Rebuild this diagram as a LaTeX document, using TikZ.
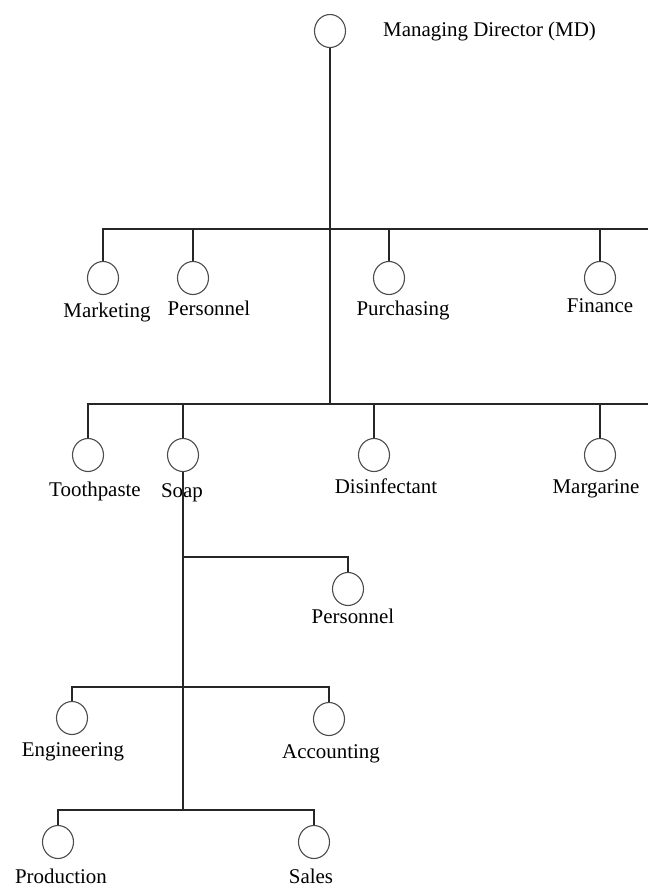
\documentclass[tikz,border=0pt]{standalone}
\usepackage{fontspec}
\setmainfont{Liberation Serif}
\usetikzlibrary{positioning, shapes.geometric}

\begin{document}
\begin{tikzpicture}[
  x=1bp, y=-1bp,
  unit/.style={draw=black!70, ellipse, line width=1.1bp, minimum width=31bp, minimum height=33bp, inner sep=0pt},
  lbl/.style={inner sep=0pt, anchor=base, font=\fontsize{21}{25}\selectfont},
  line/.style={line width=1.3bp, black!85}
]
\useasboundingbox (0,0) rectangle (648,887);

% managing director
\node[unit] (md) at (330,31) {};
\node[lbl, anchor=base west] (mdlbl) at (383,36) {Managing Director (MD)};

% functions
\coordinate (b1) at (330,229);
\coordinate (b1end) at (648,229);
\node[unit] (mkt) at (103,278) {};
\node[unit] (pers) at (193,278) {};
\node[unit] (purch) at (389,278) {};
\node[unit] (fin) at (600,278) {};
\node[lbl] at (107,317) {Marketing};
\node[lbl] at (209,315) {Personnel};
\node[lbl] at (403,315) {Purchasing};
\node[lbl] at (600,312) {Finance};

% products
\coordinate (b2) at (330,404);
\coordinate (b2end) at (648,404);
\node[unit] (tooth) at (88,455) {};
\node[unit] (soap) at (183,455) {};
\node[unit] (disinf) at (374,455) {};
\node[unit] (marg) at (600,455) {};
\node[lbl] at (95,496) {Toothpaste};
\node[lbl] at (182,497) {Soap};
\node[lbl] at (386,493) {Disinfectant};
\node[lbl] at (596,493) {Margarine};

% soap division
\coordinate (b3) at (183,557);
\coordinate (b4) at (183,687);
\coordinate (b5) at (183,810);
\node[unit] (spers) at (348,589) {};
\node[unit] (eng) at (72,718) {};
\node[unit] (acct) at (329,719) {};
\node[unit] (prod) at (58,842) {};
\node[unit] (sales) at (314,842) {};
\node[lbl] at (353,623) {Personnel};
\node[lbl] at (73,756) {Engineering};
\node[lbl] at (331,758) {Accounting};
\node[lbl] at (61,883) {Production};
\node[lbl] at (311,883) {Sales};

\draw[line] (md) -- (b2);
\draw[line] (mkt) -- (mkt |- b1) -- (b1end);
\foreach \n in {pers, purch, fin}
  \draw[line] (\n) -- (\n |- b1);
\draw[line] (tooth) -- (tooth |- b2) -- (b2end);
\foreach \n in {soap, disinf, marg}
  \draw[line] (\n) -- (\n |- b2);

\draw[line] (soap) -- (b5);
\draw[line] (b3) -| (spers);
\draw[line] (eng) |- (b4) -| (acct);
\draw[line] (prod) |- (b5) -| (sales);
\end{tikzpicture}
\end{document}
